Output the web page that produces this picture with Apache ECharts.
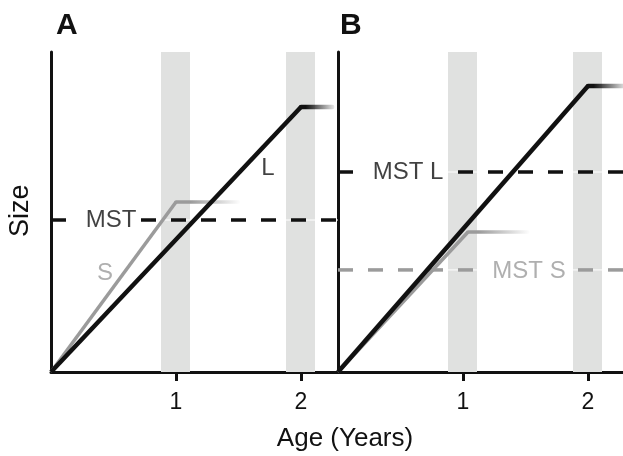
<!DOCTYPE html>
<html><head><meta charset="utf-8">
<script src="https://cdn.jsdelivr.net/npm/echarts@6/dist/echarts.min.js"></script>
<style>html,body{margin:0;padding:0;background:#fff}#c{width:623px;height:456px}</style>
</head><body><div id="c"></div>
<script>
// ---- data ----
const xTickValues = [1, 2];
const bands = [[0.88, 1.112], [1.88, 2.112]];
// Panel A
const aLine = [[0, 0], [2.0, 82.8]];
const aLineFade = [[2.0, 82.8], [2.25, 82.8]];
const aSLine = [[0, 0], [1.0, 53.1]];
const aSLineFade = [[1.0, 53.1], [1.5, 53.1]];
const aMST = 47.5;
const aMSTSegments = [[0, 0.12], [0.72, 2.296]];
// Panel B
const bLine = [[0, 0], [2.0, 89.4]];
const bLineFade = [[2.0, 89.4], [2.28, 89.4]];
const bSLine = [[0, 0], [1.04, 43.75]];
const bSLineFade = [[1.04, 43.75], [1.52, 43.75]];
const bMSTL = 62.5;
const bMSTLSegments = [[0, 0.12], [0.96, 2.28]];
const bMSTS = 31.9;
const bMSTSSegments = [[0, 1.1], [1.92, 2.28]];
// text annotations [x, y, text, tone]
const aLabels = [[1.736, 63.75, 'L', 'black'], [0.432, 30.9, 'S', 'gray'], [0.48, 47.5, 'MST', 'black']];
const bLabels = [[0.56, 62.5, 'MST L', 'black'], [1.528, 31.6, 'MST S', 'gray']];

// ---- style ----
const BLACK = '#111111', GRAY = '#9b9b9b', BAND = '#e0e1e0';
const FONT = 'Liberation Sans, Arial, Helvetica, sans-serif';
const colorOf = c => c === 'gray' ? GRAY : BLACK;

function fade(col, solidTo, endCol) {
  return {type: 'linear', x: 0, y: 0, x2: 1, y2: 0,
    colorStops: [{offset: 0, color: col}, {offset: solidTo, color: col}, {offset: 1, color: endCol}]};
}
function line(idx, data, color, width, z, cap) {
  return {type: 'line', xAxisIndex: idx, yAxisIndex: idx, data: data,
    symbol: 'none', silent: true, animation: false, z: z,
    lineStyle: {color: color, width: width, cap: cap || 'butt', join: 'miter'}};
}
function dashed(idx, level, segs, color, z) {
  const out = [];
  out.push(line(idx, [[segs[0][0], level], [segs[segs.length - 1][1], level]], '#ffffff', 1, z - 1));
  segs.forEach(s => {
    const sr = line(idx, [[s[0], level], [s[1], level]], color, 3.5, z);
    sr.lineStyle.type = [15, 15];
    out.push(sr);
  });
  return out;
}
function bandSeries(idx) {
  return {type: 'line', xAxisIndex: idx, yAxisIndex: idx, data: [], silent: true, z: 0,
    markArea: {silent: true, itemStyle: {color: BAND}, data: bands.map(b => [{xAxis: b[0], yAxis: 0}, {xAxis: b[1], yAxis: 100}])}};
}
function labels(idx, arr) {
  return {type: 'scatter', xAxisIndex: idx, yAxisIndex: idx, symbolSize: 0, silent: true, z: 10, animation: false,
    data: arr.map(a => ({value: [a[0], a[1]], label: {show: true, position: 'inside', formatter: a[2],
      color: colorOf(a[3]), fontSize: 24, fontFamily: FONT}}))};
}
function xAx(idx, max) {
  return {type: 'value', gridIndex: idx, min: 0, max: max,
    axisLine: {show: true, onZero: false, lineStyle: {color: BLACK, width: 3}},
    axisTick: {show: true, customValues: xTickValues, length: 9, lineStyle: {color: BLACK, width: 3}},
    axisLabel: {show: true, customValues: xTickValues, fontSize: 23, color: BLACK, margin: 19, fontFamily: FONT},
    splitLine: {show: false}};
}
function yAx(idx) {
  return {type: 'value', gridIndex: idx, min: 0, max: 100,
    axisLine: {show: true, onZero: false, lineStyle: {color: BLACK, width: 3}},
    axisTick: {show: false}, axisLabel: {show: false}, splitLine: {show: false}};
}

const series = [
  bandSeries(0), bandSeries(1),
  ...dashed(0, aMST, aMSTSegments, BLACK, 3),
  ...dashed(1, bMSTL, bMSTLSegments, BLACK, 3),
  ...dashed(1, bMSTS, bMSTSSegments, GRAY, 3),
  line(0, aSLine, GRAY, 3.5, 4),
  line(0, aSLineFade, fade(GRAY, 0.25, 'rgba(155,155,155,0)'), 3.5, 4, 'round'),
  line(0, aLine, BLACK, 4.5, 5),
  line(0, aLineFade, fade(BLACK, 0.2, 'rgba(17,17,17,0.08)'), 4.5, 5, 'round'),
  line(1, bSLine, GRAY, 3.5, 4),
  line(1, bSLineFade, fade(GRAY, 0.2, 'rgba(155,155,155,0)'), 3.5, 4, 'round'),
  line(1, bLine, BLACK, 4.5, 5),
  line(1, bLineFade, fade(BLACK, 0.2, 'rgba(17,17,17,0.1)'), 4.5, 5, 'round'),
  labels(0, aLabels), labels(1, bLabels)
];

const chart = echarts.init(document.getElementById('c'), null, {renderer: 'canvas'});
chart.setOption({
  backgroundColor: '#ffffff',
  animation: false,
  grid: [
    {left: 51, top: 52, width: 287, height: 320, containLabel: false},
    {left: 338, top: 52, width: 285, height: 320, containLabel: false}
  ],
  xAxis: [xAx(0, 2.296), xAx(1, 2.28)],
  yAxis: [yAx(0), yAx(1)],
  title: [
    {text: 'A', left: 51, top: 6, textStyle: {fontSize: 30, fontWeight: 'bold', color: BLACK, fontFamily: FONT}},
    {text: 'B', left: 335, top: 6, textStyle: {fontSize: 30, fontWeight: 'bold', color: BLACK, fontFamily: FONT}}
  ],
  graphic: [
    {type: 'text', x: 345, y: 426, style: {text: 'Age (Years)', fill: BLACK, font: '26px ' + FONT, align: 'center'}},
    {type: 'text', x: 7, y: 237, rotation: Math.PI / 2, style: {text: 'Size', fill: BLACK, font: '27px ' + FONT}}
  ],
  series: series
});
</script></body></html>
